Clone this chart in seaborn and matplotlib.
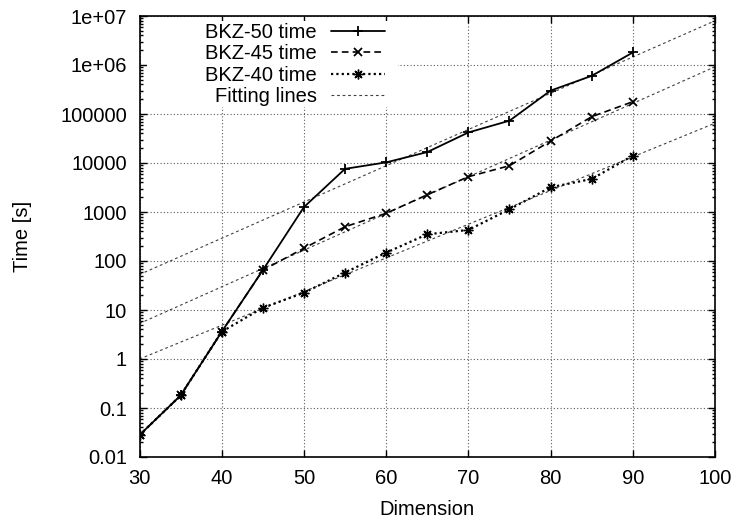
import numpy as np
import pandas as pd
import matplotlib
matplotlib.use('Agg')
import matplotlib.pyplot as plt
from matplotlib.patches import Rectangle
from matplotlib.ticker import FixedLocator, FixedFormatter, LogLocator, NullFormatter
import seaborn as sns

# --- DATA ---
dims = [30, 35, 40, 45, 50, 55, 60, 65, 70, 75, 80, 85, 90]
bkz50 = [0.028, 0.18, 3.6, 65, 1260, 7600, 10300, 16700, 42000, 73000, 300000, 600000, 1.8e6]
bkz45 = [0.028, 0.18, 3.6, 65, 182, 500, 940, 2250, 5250, 8800, 28000, 88000, 178000]
bkz40 = [0.028, 0.18, 3.6, 11.1, 22.5, 58, 148, 351, 430, 1135, 3190, 4720, 14100]

# fitting lines: value at both ends of the x range (straight lines on a log axis)
fit_x = [30, 100]
fit50 = [53, 8.0e6]
fit45 = [5.3, 9.2e5]
fit40 = [1.0, 6.5e4]

x_ticks = [30, 40, 50, 60, 70, 80, 90, 100]
y_ticks = [0.01, 0.1, 1, 10, 100, 1000, 10000, 100000, 1e6, 1e7]
y_tick_labels = ['0.01', '0.1', '1', '10', '100', '1000', '10000', '100000', '1e+06', '1e+07']

df = pd.concat([
    pd.DataFrame({'Dimension': dims, 'Time': bkz50, 'series': 'BKZ-50 time'}),
    pd.DataFrame({'Dimension': dims, 'Time': bkz45, 'series': 'BKZ-45 time'}),
    pd.DataFrame({'Dimension': dims, 'Time': bkz40, 'series': 'BKZ-40 time'}),
])
fits = pd.concat([
    pd.DataFrame({'Dimension': fit_x, 'Time': fit50, 'series': 'fit50'}),
    pd.DataFrame({'Dimension': fit_x, 'Time': fit45, 'series': 'fit45'}),
    pd.DataFrame({'Dimension': fit_x, 'Time': fit40, 'series': 'fit40'}),
])

# --- STYLE ---
sns.set_style('ticks')
plt.rcParams['font.family'] = ['Liberation Sans', 'DejaVu Sans']
plt.rcParams['font.size'] = 14.5
for key in ['text.color', 'axes.labelcolor', 'xtick.color', 'ytick.color', 'xtick.labelcolor', 'ytick.labelcolor']:
    plt.rcParams[key] = 'black'

fig = plt.figure(figsize=(7.37, 5.2), dpi=100)
ax = fig.add_axes([139.5 / 737, 1 - 457 / 520, (715 - 139.5) / 737, (457 - 16) / 520])

styles = {
    'BKZ-50 time': dict(linestyle='-', marker='+', markersize=7, lw=1.3, mew=1.3),
    'BKZ-45 time': dict(linestyle=(0, (4, 2.5)), marker='x', markersize=6, lw=1.2, mew=1.3),
    'BKZ-40 time': dict(linestyle=(0, (1, 1.4)), marker=(8, 2, 0), markersize=7, lw=1.6, mew=1.0),
}
for name, st in styles.items():
    sub = df[df['series'] == name]
    sns.lineplot(data=sub, x='Dimension', y='Time', ax=ax, color='black', label=name)
    line = ax.get_lines()[-1]
    line.set_linestyle(st['linestyle'])
    line.set_marker(st['marker'])
    line.set_markersize(st['markersize'])
    line.set_linewidth(st['lw'])
    line.set_markeredgewidth(st['mew'])
    line.set_markeredgecolor('black')
    line.set_markerfacecolor('black')
    line.set_zorder(3)

for i, name in enumerate(['fit50', 'fit45', 'fit40']):
    sub = fits[fits['series'] == name]
    sns.lineplot(data=sub, x='Dimension', y='Time', ax=ax, color='0.25',
                 label='Fitting lines' if i == 0 else '_nolegend_')
    line = ax.get_lines()[-1]
    line.set_linestyle((0, (2.5, 2.5)))
    line.set_linewidth(0.8)
    line.set_zorder(2)

ax.set_yscale('log')
ax.set_xlim(30, 100)
ax.set_ylim(0.01, 1e7)
ax.xaxis.set_major_locator(FixedLocator(x_ticks))
ax.yaxis.set_major_locator(FixedLocator(y_ticks))
ax.yaxis.set_major_formatter(FixedFormatter(y_tick_labels))
ax.yaxis.set_minor_locator(LogLocator(base=10, subs=np.arange(2, 10), numticks=20))
ax.yaxis.set_minor_formatter(NullFormatter())

ax.tick_params(which='both', direction='in', top=True, right=True, width=1, color='black')
ax.tick_params(which='major', length=5, pad=9)
ax.tick_params(which='minor', length=2.5)
for s in ax.spines.values():
    s.set_linewidth(1.2)
    s.set_color('black')

ax.set_axisbelow(True)
ax.grid(True, which='major', linestyle=(0, (1, 2)), color='0.35', lw=0.8)

# gnuplot key is opaque: blank out the grid behind it
ax.add_patch(Rectangle((0.013, (457 - 107) / 441), (398 - 139.5) / 575.5 - 0.013, 1 - (457 - 107) / 441 - 0.012,
                       transform=ax.transAxes, facecolor='white', edgecolor='none', zorder=1))

ax.set_xlabel('Dimension', labelpad=8)
ax.set_ylabel('Time [s]', labelpad=20)

leg = ax.legend(loc='upper right', bbox_to_anchor=(385 / 737, 1 - 23 / 520), bbox_transform=fig.transFigure,
                frameon=False, markerfirst=False, handlelength=2.7, handletextpad=0.7,
                labelspacing=0.12, borderpad=0, borderaxespad=0, fontsize=14.5)
leg._legend_handle_box.get_children()[0].align = 'right'

fig.savefig('out.png', dpi=100)
